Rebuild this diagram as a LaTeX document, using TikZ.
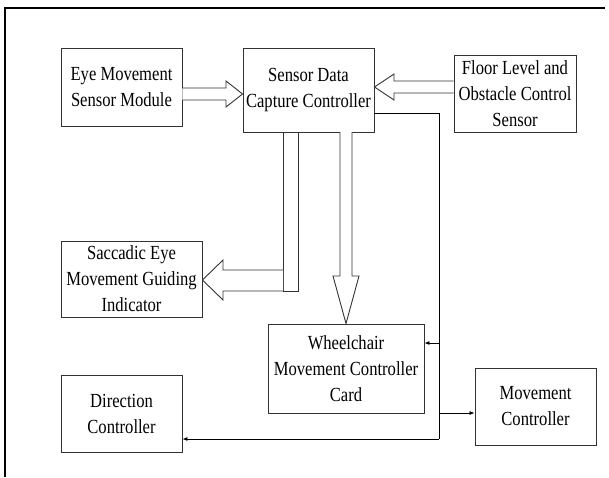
\documentclass[tikz,border=0pt]{standalone}
\usepackage{fontspec}
\setmainfont{Liberation Serif}[FakeStretch=0.83]
\usetikzlibrary{arrows.meta}
\begin{document}
\begin{tikzpicture}[x=1pt,y=-1pt,
  blk/.style={draw=black!80, line width=0.9pt, inner sep=0pt, align=center,
              font=\fontsize{20}{26}\selectfont},
  hollow/.style={draw=black!80, line width=0.9pt, fill=white, line join=miter},
  line/.style={draw=black, line width=0.8pt},
  wire/.style={draw=black, line width=0.8pt, -{Latex[length=5pt,width=4pt]}},
  frameline/.style={draw=black, line width=2.5pt}]
\useasboundingbox (0,0) rectangle (609,477);
\draw[frameline] (5,477) -- (5,8) -- (605,8);

\node[blk, minimum width=121pt, minimum height=78pt] (eye) at (121.5,87) {Eye Movement\\Sensor Module};
\node[blk, minimum width=131pt, minimum height=84pt] (sdc) at (308.5,90) {Sensor Data\\Capture Controller};
\node[blk, minimum width=122pt, minimum height=77pt] (floor) at (515,93.5) {Floor Level and\\Obstacle Control\\Sensor};
\node[blk, minimum width=141pt, minimum height=76pt] (sacc) at (131.5,279) {Saccadic Eye\\Movement Guiding\\Indicator};
\node[blk, minimum width=156pt, minimum height=89pt] (wheel) at (346,368.5) {Wheelchair\\Movement Controller\\Card};
\node[blk, minimum width=121pt, minimum height=77pt] (dir) at (121.5,413.5) {Direction\\Controller};
\node[blk, minimum width=121pt, minimum height=77pt] (move) at (535.5,406.5) {Movement\\Controller};

% hollow block arrows
\draw[hollow] (eye.east |- 0,88) -- (226,88) -- (226,81) -- (sdc.west |- 0,94)
  -- (226,107) -- (226,100) -- (eye.east |- 0,100);
\draw[hollow] (floor.west |- 0,81) -- (394,81) -- (394,74) -- (sdc.east |- 0,87)
  -- (394,100) -- (394,93) -- (floor.west |- 0,93);
\draw[hollow] (283,132) rectangle (298,291);
\draw[hollow] (283,270) -- (223,270) -- (223,260) -- (sacc.east |- 0,280)
  -- (223,300) -- (223,291) -- (283,291);
\draw[hollow] (340,132) -- (340,276) -- (333,276) -- (wheel.north)
  -- (359,276) -- (352,276) -- (352,132);

% thin connectors
\coordinate (j1) at (439,113);
\coordinate (j2) at (439,439);
\draw[line] (sdc.east |- j1) -- (j1) -- (j2);
\draw[wire] (j2) -- (dir.east |- j2);
\draw[wire] (j1 |- 0,343) -- (wheel.east |- 0,343);
\draw[wire] (j1 |- 0,413) -- (move.west |- 0,413);
\end{tikzpicture}
\end{document}
